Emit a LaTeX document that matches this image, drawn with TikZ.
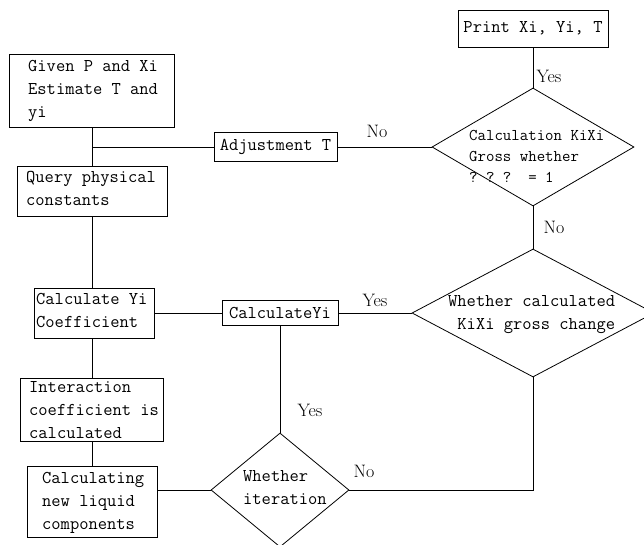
\documentclass[tikz,border=0pt]{standalone}
\usetikzlibrary{shapes.geometric}
\begin{document}
\begin{tikzpicture}[
  x=1pt, y=-1pt,
  conn/.style={line width=0.8pt, draw=black},
  boxnode/.style={draw=black, line width=0.9pt, inner sep=0pt},
  txt/.style={font=\ttfamily\fontsize{18}{23}\selectfont, align=left, inner sep=0pt, anchor=west},
  dtxt/.style={font=\ttfamily\fontsize{16.4}{21}\selectfont, align=left, inner sep=0pt, anchor=west},
  boxtxt/.style={boxnode, font=\ttfamily\fontsize{18}{23}\selectfont},
  decision/.style={diamond, draw=black, line width=0.8pt, inner sep=0pt},
  lab/.style={font=\rmfamily\fontsize{18}{22}\selectfont, inner sep=0pt}
]
\fill[white] (0,0) rectangle (644,545);
\useasboundingbox (0,0) rectangle (644,545);

% left column boxes
\node[boxnode, minimum width=165pt, minimum height=73pt] (b1) at (92,90.5) {};
\node[txt] (t1) at (28,90.5) {Given P and Xi\\Estimate T and\\yi};

\node[boxnode, minimum width=150pt, minimum height=50pt] (b2) at (92,191) {};
\node[txt] (t2) at (26,188.5) {Query physical\\constants};

\node[boxnode, minimum width=120pt, minimum height=50pt] (b3) at (94,313) {};
\node[txt] (t3) at (36,310.5) {Calculate Yi\\Coefficient};

\node[boxnode, minimum width=143pt, minimum height=63pt] (b4) at (92,409.5) {};
\node[txt] (t4) at (29,410) {Interaction\\coefficient is\\calculated};

\node[boxnode, minimum width=130pt, minimum height=71pt] (b5) at (92,501.5) {};
\node[txt] (t5) at (42,502.5) {Calculating\\new liquid\\components};

% middle / right
\node[boxtxt, minimum width=123pt, minimum height=29pt] (adj) at (275.5,147) {Adjustment T};
\node[boxtxt, minimum width=150pt, minimum height=37pt] (pr) at (533,28.5) {Print Xi, Yi, T};
\node[boxtxt, minimum width=116pt, minimum height=25pt] (cy) at (280,313) {CalculateYi};

\node[decision, minimum width=202pt, minimum height=118pt] (d1) at (533,147) {};
\node[dtxt] (td1) at (469,156.5) {Calculation KiXi\\Gross whether\\?~?~?~~=~1};

\node[decision, minimum width=242pt, minimum height=128pt] (d2) at (533,313) {};
\node[txt] (td2) at (448,315) {Whether calculated\\\hphantom{x}KiXi gross change};

\node[decision, minimum width=138pt, minimum height=114pt] (d3) at (280,490) {};
\node[txt] (td3) at (243,488) {Whether\\iteration};

\coordinate (j1) at (92,147);
\coordinate (corner) at (533,490);

% labels
\node[lab] (l1) at (549,76) {Yes};
\node[lab] (l2) at (377,131) {No};
\node[lab] (l3) at (554,227) {No};
\node[lab] (l4) at (375,300) {Yes};
\node[lab] (l5) at (310,410) {Yes};
\node[lab] (l6) at (364,471) {No};

% connectors
\draw[conn] (b1.south) -- (b2.north);
\draw[conn] (b2.south) -- (b2.south |- b3.north);
\draw[conn] (b4.north) -- (b4.north |- b3.south);
\draw[conn] (b4.south) -- (b5.north);
\draw[conn] (j1) -- (adj.west);
\draw[conn] (adj.east) -- (d1.west);
\draw[conn] (d1.north) -- (pr.south);
\draw[conn] (d1.south) -- (d2.north);
\draw[conn] (d2.west) -- (cy.east);
\draw[conn] (cy.west) -- (b3.east);
\draw[conn] (cy.south) -- (d3.north);
\draw[conn] (d3.west) -- (d3.west -| b5.east);
\draw[conn] (d3.east) -- (corner) -- (d2.south);
\end{tikzpicture}
\end{document}
